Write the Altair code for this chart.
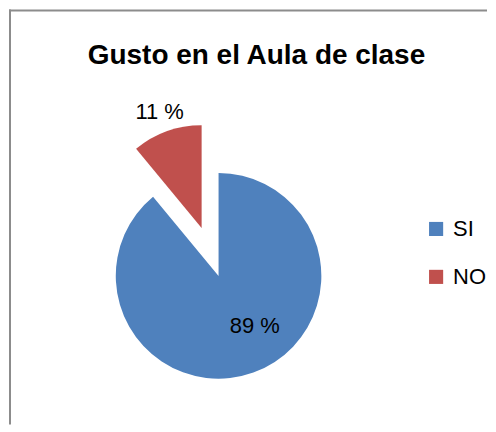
import math
import altair as alt
import pandas as pd

categories = ["SI", "NO"]
values = [89, 11]
labels = ["89 %", "11 %"]
colors = ["#4F81BD", "#C0504D"]
title_text = "Gusto en el Aula de clase"

ends = pd.Series(values).cumsum()
df = pd.DataFrame({
    "cat": categories,
    "value": values,
    "label": labels,
    "end": ends,
    "start": ends - pd.Series(values),
})
df["mid"] = (df["start"] + df["end"]) / 2

FONT = "Liberation Sans"
theta_scale = alt.Scale(domain=[0, 100], range=[0, 2 * math.pi])
color_enc = alt.Color(
    "cat:N",
    scale=alt.Scale(domain=categories, range=colors),
    sort=categories,
    legend=alt.Legend(
        title=None, orient="none", legendX=418, legendY=209,
        symbolType="square", symbolSize=200, symbolStrokeWidth=0,
        labelFontSize=22, labelFont=FONT, labelColor="#000000",
        rowPadding=26, padding=0, labelOffset=6,
    ),
)

base = alt.Chart(df)

cx_si, cy_si = 211, 267
cx_no, cy_no = 194, 219

si_arc = base.transform_filter(alt.datum.cat == "SI").mark_arc(radius=103).encode(
    theta=alt.Theta("start:Q", scale=theta_scale), theta2="end:Q",
    color=color_enc, x=alt.value(cx_si), y=alt.value(cy_si),
)
no_arc = base.transform_filter(alt.datum.cat == "NO").mark_arc(radius=103).encode(
    theta=alt.Theta("start:Q", scale=theta_scale), theta2="end:Q",
    color=color_enc, x=alt.value(cx_no), y=alt.value(cy_no),
)
si_text = base.transform_filter(alt.datum.cat == "SI").mark_text(
    radius=63, dx=15, dy=-9, fontSize=22, font=FONT, color="#000000", baseline="middle"
).encode(
    theta=alt.Theta("mid:Q", scale=theta_scale), text="label:N",
    x=alt.value(cx_si), y=alt.value(cy_si),
)
no_text = base.transform_filter(alt.datum.cat == "NO").mark_text(
    radius=124, fontSize=22, font=FONT, color="#000000", baseline="middle"
).encode(
    theta=alt.Theta("mid:Q", scale=theta_scale), text="label:N",
    x=alt.value(cx_no), y=alt.value(cy_no),
)

one = alt.Data(values=[{}])
title = alt.Chart(one).mark_text(
    text=title_text, fontSize=28, fontWeight="bold", font=FONT, color="#000000",
    baseline="alphabetic", align="center",
).encode(x=alt.value(249), y=alt.value(55))

left_border = alt.Chart(one).mark_rule(color="#8C8C8C", strokeWidth=2).encode(
    x=alt.value(2), y=alt.value(0), y2=alt.value(416)
)
top_border = alt.Chart(one).mark_rule(color="#8C8C8C", strokeWidth=2).encode(
    y=alt.value(1), x=alt.value(1), x2=alt.value(480)
)

chart = alt.layer(
    left_border, top_border, title, si_arc, no_arc, si_text, no_text
).properties(width=480, height=416, padding=0).configure_view(strokeWidth=0)

chart.save("out.html", embed_options={"renderer": "svg", "actions": False})
